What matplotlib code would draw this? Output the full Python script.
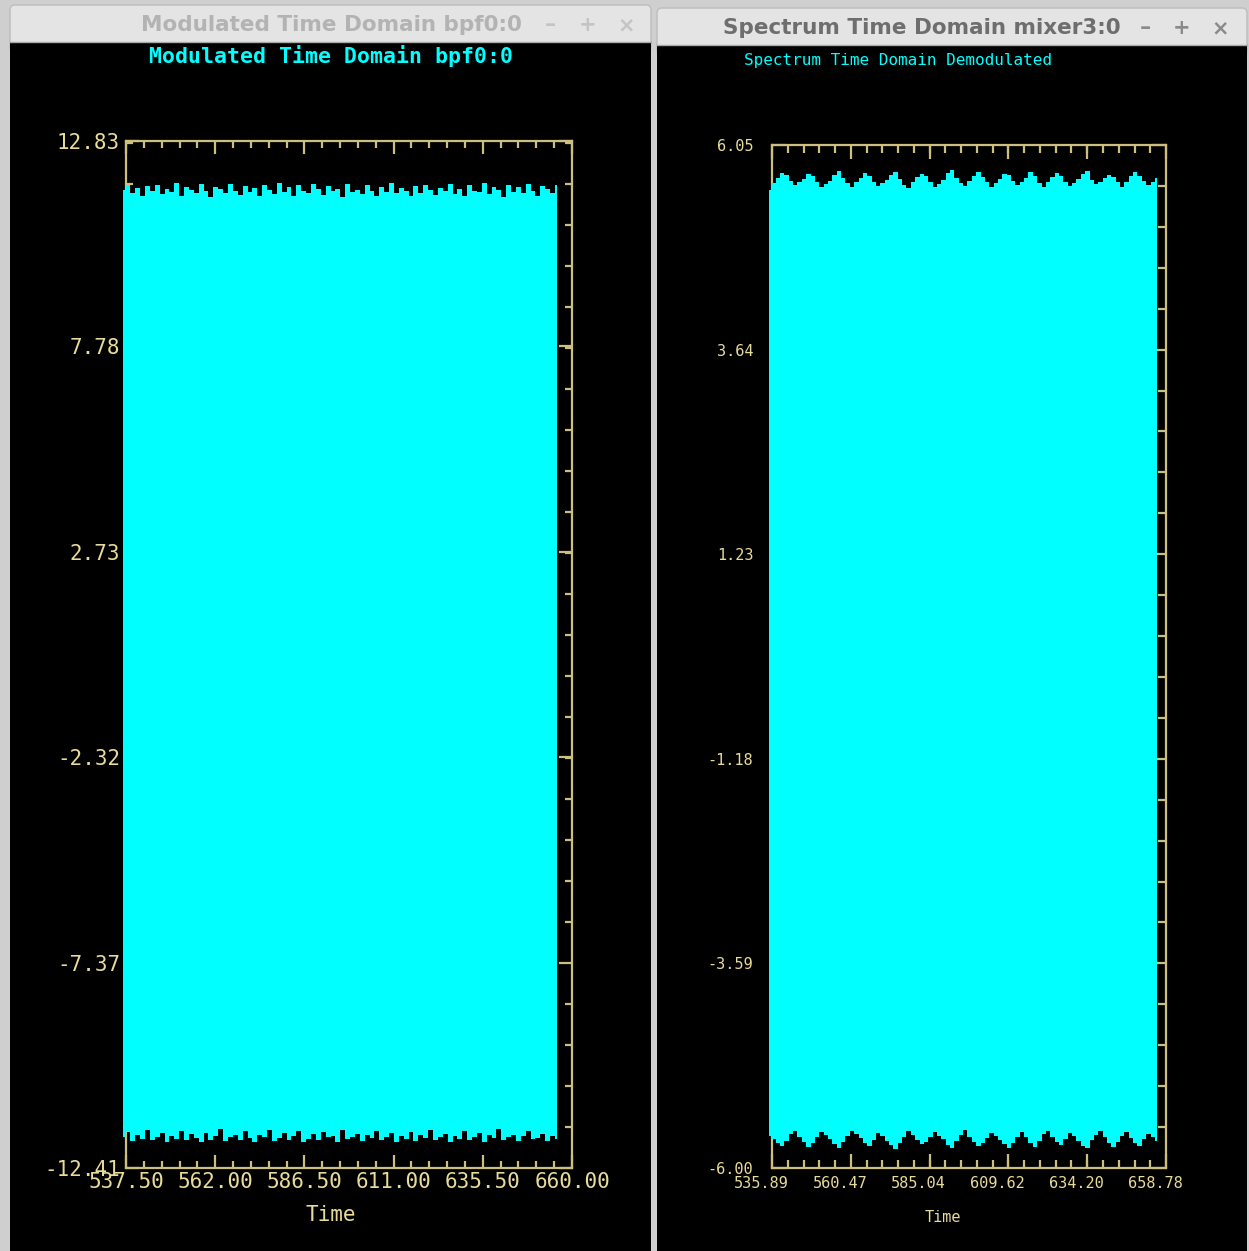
import numpy as np
import matplotlib
matplotlib.use("Agg")
import matplotlib.pyplot as plt
from matplotlib.patches import Rectangle, FancyBboxPatch
from matplotlib.ticker import FixedLocator, AutoMinorLocator
import matplotlib.transforms as mtransforms

# ---------------- data ----------------
left_title = "Modulated Time Domain bpf0:0"
right_title = "Spectrum Time Domain mixer3:0"
left_plot_title = "Modulated Time Domain bpf0:0"
right_plot_title = "Spectrum Time Domain Demodulated"
xlabel = "Time"

left_xticks = [537.50, 562.00, 586.50, 611.00, 635.50, 660.00]
left_xticklabels = ["537.50", "562.00", "586.50", "611.00", "635.50", "660.00"]
left_yticks = [12.83, 7.78, 2.73, -2.32, -7.37, -12.41]
left_yticklabels = ["12.83", "7.78", "2.73", "-2.32", "-7.37", "-12.41"]

right_xticks = [535.89, 560.47, 585.04, 609.62, 634.20, 658.78]
right_xticklabels = ["535.89", "560.47", "585.04", "609.62", "634.20", "658.78"]
right_yticks = [6.05, 3.64, 1.23, -1.18, -3.59, -6.00]
right_yticklabels = ["6.05", "3.64", "1.23", "-1.18", "-3.59", "-6.00"]

left_t_range = [536.7, 656.0]
right_t_range = [535.0, 656.0]

left_top = [11.62, 11.74, 11.55, 11.68, 11.47, 11.72, 11.60, 11.76, 11.52, 11.66,
            11.58, 11.79, 11.49, 11.70, 11.63, 11.54, 11.77, 11.59, 11.46, 11.71,
            11.65, 11.56, 11.78, 11.61, 11.50, 11.73, 11.57, 11.67, 11.48, 11.75,
            11.62, 11.53, 11.80, 11.58, 11.69, 11.47, 11.74, 11.60, 11.55, 11.77,
            11.64, 11.51, 11.72, 11.59, 11.66, 11.46, 11.78, 11.57, 11.63, 11.52,
            11.75, 11.61, 11.49, 11.70, 11.58, 11.79, 11.54, 11.67, 11.60, 11.47,
            11.73, 11.56, 11.76, 11.62, 11.50, 11.68, 11.59, 11.77, 11.53, 11.65,
            11.48, 11.74, 11.61, 11.57, 11.79, 11.52, 11.69, 11.63, 11.46, 11.75,
            11.58, 11.71, 11.55, 11.78, 11.60, 11.49, 11.73, 11.64, 11.56, 11.76]
left_bot = [-11.66, -11.52, -11.74, -11.61, -11.70, -11.47, -11.72, -11.65, -11.55, -11.76,
            -11.63, -11.69, -11.49, -11.73, -11.58, -11.67, -11.77, -11.54, -11.71, -11.62,
            -11.46, -11.75, -11.66, -11.59, -11.72, -11.51, -11.68, -11.78, -11.60, -11.64,
            -11.48, -11.74, -11.67, -11.56, -11.71, -11.63, -11.50, -11.76, -11.69, -11.58,
            -11.73, -11.53, -11.66, -11.62, -11.77, -11.47, -11.70, -11.64, -11.57, -11.75,
            -11.61, -11.68, -11.49, -11.72, -11.66, -11.55, -11.78, -11.63, -11.70, -11.52,
            -11.74, -11.60, -11.67, -11.48, -11.71, -11.65, -11.58, -11.76, -11.62, -11.69,
            -11.51, -11.73, -11.64, -11.56, -11.77, -11.61, -11.68, -11.46, -11.72, -11.66,
            -11.59, -11.75, -11.63, -11.50, -11.70, -11.67, -11.57, -11.74, -11.62, -11.69]

right_top = [5.52, 5.60, 5.66, 5.72, 5.70, 5.63, 5.58,
             5.61, 5.65, 5.71, 5.68, 5.62, 5.55, 5.59,
             5.63, 5.70, 5.74, 5.66, 5.60, 5.56, 5.62,
             5.66, 5.72, 5.69, 5.61, 5.57, 5.60, 5.64,
             5.70, 5.73, 5.65, 5.58, 5.54, 5.61, 5.67,
             5.71, 5.68, 5.62, 5.56, 5.59, 5.64, 5.72,
             5.75, 5.66, 5.60, 5.57, 5.63, 5.69, 5.73,
             5.67, 5.61, 5.55, 5.60, 5.65, 5.71, 5.70,
             5.63, 5.58, 5.61, 5.66, 5.73, 5.68, 5.60,
             5.56, 5.62, 5.67, 5.72, 5.69, 5.62, 5.57,
             5.60, 5.65, 5.71, 5.74, 5.64, 5.59, 5.61,
             5.66, 5.70, 5.67, 5.61, 5.56, 5.62, 5.68,
             5.73, 5.69, 5.63, 5.58, 5.61, 5.66]
right_bot = [-5.62, -5.66, -5.70, -5.74, -5.68, -5.60, -5.57,
             -5.63, -5.69, -5.75, -5.71, -5.64, -5.58, -5.61,
             -5.66, -5.72, -5.77, -5.69, -5.62, -5.56, -5.60,
             -5.65, -5.71, -5.74, -5.67, -5.59, -5.62, -5.68,
             -5.73, -5.78, -5.70, -5.63, -5.57, -5.61, -5.67,
             -5.72, -5.69, -5.64, -5.58, -5.62, -5.66, -5.73,
             -5.76, -5.68, -5.61, -5.55, -5.63, -5.69, -5.74,
             -5.70, -5.65, -5.59, -5.62, -5.67, -5.72, -5.77,
             -5.71, -5.63, -5.58, -5.64, -5.70, -5.75, -5.68,
             -5.60, -5.56, -5.63, -5.69, -5.73, -5.66, -5.59,
             -5.62, -5.68, -5.74, -5.77, -5.67, -5.61, -5.57,
             -5.64, -5.71, -5.75, -5.69, -5.62, -5.58, -5.65,
             -5.70, -5.74, -5.66, -5.60, -5.63, -5.68]

# ---------------- style ----------------
W, H = 1249, 1251
CYAN = "#00ffff"
TXT = "#e8dc98"
LINE = "#cdbf80"
MONO = "DejaVu Sans Mono"

fig = plt.figure(figsize=(W / 100, H / 100), dpi=100)
fig.patch.set_facecolor("#cfcfcf")

def frac(x0, y0, x1, y1):
    return [x0 / W, 1 - y1 / H, (x1 - x0) / W, (y1 - y0) / H]

bg = fig.add_axes([0, 0, 1, 1], zorder=-5)
bg.set_xlim(0, W)
bg.set_ylim(H, 0)
bg.axis("off")

# windows
for (x0, x1, ty0, ty1) in [(10, 651, 5, 42), (657, 1247, 8, 45)]:
    bg.add_patch(FancyBboxPatch((x0, ty0), x1 - x0, (ty1 - ty0) + 10,
                                boxstyle="round,pad=0,rounding_size=5",
                                facecolor="#e4e4e4", edgecolor="#bdbdbd", lw=1))
    bg.add_patch(Rectangle((x0, ty1), x1 - x0, H - ty1, facecolor="black",
                           edgecolor="none"))
    bg.plot([x0, x1], [ty1, ty1], color="#a8a8a8", lw=1)

# title bars
bg.text(331, 25, left_title, color="#b3b3b3", fontsize=15.5, fontweight="bold",
        ha="center", va="center", family="DejaVu Sans")
bg.text(922, 28, right_title, color="#6e6e6e", fontsize=15.5, fontweight="bold",
        ha="center", va="center", family="DejaVu Sans")
for (xs, y, c) in [((550, 588, 626), 25, "#c4c4c4"), ((1145, 1182, 1220), 28, "#8a8a8a")]:
    bg.text(xs[0], y, "\u2013", color=c, fontsize=16, ha="center", va="center", fontweight="bold")
    bg.text(xs[1], y, "+", color=c, fontsize=15, ha="center", va="center", fontweight="bold")
    bg.text(xs[2], y, "\u00d7", color=c, fontsize=15, ha="center", va="center", fontweight="bold")

# plot titles and x labels
bg.text(331, 56, left_plot_title, color=CYAN, fontsize=15.5, fontweight="bold",
        ha="center", va="center", family=MONO)
bg.text(898, 61, right_plot_title, color=CYAN, fontsize=11.5,
        ha="center", va="center", family=MONO)
bg.text(331, 1215, xlabel, color=TXT, fontsize=15, ha="center", va="center", family=MONO)
bg.text(943, 1217, xlabel, color=TXT, fontsize=11, ha="center", va="center", family=MONO)


def make_panel(rect, xticks, xlabels, yticks, ylabels, t_range, top, bot,
               fs, ypad, xpad, xoff, major_len, minor_len):
    ax = fig.add_axes(rect)
    ax.set_facecolor("none")
    ax.set_xlim(xticks[0], xticks[-1])
    ax.set_ylim(yticks[-1], yticks[0])
    for s in ax.spines.values():
        s.set_color(LINE)
        s.set_linewidth(1.6)
    ax.xaxis.set_major_locator(FixedLocator(xticks))
    ax.yaxis.set_major_locator(FixedLocator(yticks))
    ax.set_xticklabels(xlabels)
    ax.set_yticklabels(ylabels)
    ax.xaxis.set_minor_locator(AutoMinorLocator(5))
    ax.yaxis.set_minor_locator(AutoMinorLocator(5))
    ax.tick_params(which="both", direction="in", top=True, right=True,
                   color=LINE, width=1.6, labelcolor=TXT, labelsize=fs)
    ax.tick_params(which="major", length=major_len)
    ax.tick_params(which="minor", length=minor_len)
    ax.tick_params(axis="y", pad=ypad)
    ax.tick_params(axis="x", pad=xpad)
    for lab in ax.get_xticklabels() + ax.get_yticklabels():
        lab.set_family(MONO)
    if xoff:
        off = mtransforms.ScaledTranslation(xoff / 100, 0, fig.dpi_scale_trans)
        for lab in ax.get_xticklabels():
            lab.set_transform(lab.get_transform() + off)
    t = np.linspace(t_range[0], t_range[1], len(top))
    ax.fill_between(t, bot, top, step="mid", color=CYAN, lw=0, zorder=3,
                    clip_on=False, antialiased=False)
    return ax


make_panel(frac(126, 141, 572, 1168), left_xticks, left_xticklabels,
           left_yticks, left_yticklabels, left_t_range, left_top, left_bot,
           15, 4.3, 3.0, 0, 9.5, 5.0)
make_panel(frac(772, 145, 1166, 1168), right_xticks, right_xticklabels,
           right_yticks, right_yticklabels, right_t_range, right_top, right_bot,
           11, 13.5, 6.0, -11, 10.0, 5.5)

fig.savefig("out.png", dpi=100, facecolor=fig.get_facecolor())
